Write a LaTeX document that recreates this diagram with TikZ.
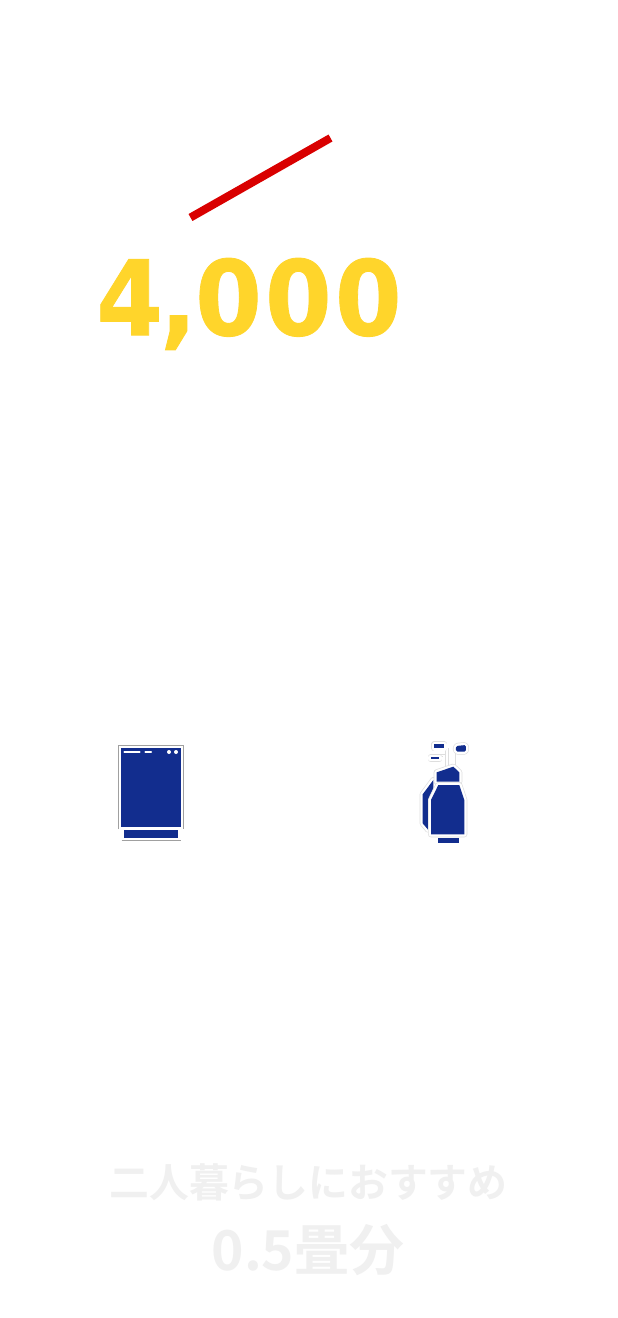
\documentclass[tikz,border=0pt]{standalone}
\usepackage{fontspec}
\newfontfamily\cjkb[Ligatures=TeX]{Noto Sans CJK JP Bold}
\newfontfamily\numb[LetterSpace=3.5,FakeBold=0.8]{DejaVu Sans Bold}
\definecolor{ybig}{HTML}{FFD52B}
\definecolor{redl}{HTML}{D90000}
\definecolor{navy}{HTML}{122D8E}
\definecolor{pale}{HTML}{F0F0F0}
\definecolor{rimg}{HTML}{A0A0A0}
\definecolor{rimh}{HTML}{DEDEDE}
\tikzset{
  blue part/.style={fill=navy,draw=none},
  white bar/.style={draw=white,line width=2.2pt,line cap=round},
  rim/.style={draw=rimg,line width=0.9pt},
  halo out/.style={draw=rimh,line width=6pt,line join=round},
  halo in/.style={draw=white,line width=4.6pt,line join=round},
  txt/.style={inner sep=0pt,outer sep=0pt,anchor=center}
}
\newcommand{\haloshape}[1]{\path[halo out] #1; \path[halo in] #1; \path[blue part] #1;}
\begin{document}
\begin{tikzpicture}[x=1pt,y=-1pt]
\useasboundingbox[fill=white] (0,0) rectangle (618,1318);
\coordinate (redA) at (190.5,217.5);
\coordinate (redB) at (330.5,138);
\draw[redl,line width=8pt] (redA) -- (redB);
\node[txt,text=ybig,transform shape,xscale=0.92,font={\numb\fontsize{104}{104}\selectfont}] (num) at (249,304) {4\kern-3pt,\kern-1.5pt000};
% dishwasher icon
\draw[rim] (118.7,829) -- (118.7,745.7) -- (183,745.7) -- (183,829);
\fill[blue part] (121,748) rectangle (180.7,826.7);
\fill[blue part] (124,830) rectangle (178,838);
\draw[rim] (121.5,840) -- (180.5,840);
\draw[white bar] (124.5,752) -- (139.5,752);
\draw[white bar] (145.5,752) -- (151,752);
\fill[white] (169,752) circle (2);
\fill[white] (176,752) circle (2);
% golf bag icon
\begin{scope}[shift={(400,735)},x=0.3333pt,y=-0.3333pt]
\draw[rimh,line width=3.4pt] (141,40) -- (141,110);
\draw[white,line width=2.2pt] (141,40) -- (141,110);
\draw[rimh,line width=3.4pt] (163,40) -- (163,100);
\draw[white,line width=2.2pt] (163,40) -- (163,100);
\draw[rimh,line width=2.8pt] (118,62) -- (132,62) -- (132,105);
\draw[white,line width=1.6pt] (118,62) -- (132,62) -- (132,105);
\haloshape{(103,28) -- (133,28) -- (133,40) -- (103,40) -- cycle}
\haloshape{[rounded corners=1.5pt] (168,33) -- (198,30) -- (198,50) -- (168,50) -- cycle}
\haloshape{(92,67) -- (118,67) -- (118,72) -- (92,72) -- cycle}
\haloshape{(100,135) -- (68,178) -- (68,265) -- (85,285) -- (85,195) -- (100,160) -- cycle}
\haloshape{(110,112) -- (160,95) -- (178,112) -- (178,140) -- (110,140) -- cycle}
\haloshape{(115,150) -- (178,150) -- (193,195) -- (193,298) -- (93,298) -- (93,195) -- cycle}
\fill[blue part] (113,310) rectangle (177,323);
\end{scope}
\node[txt,text=pale,font={\cjkb\fontsize{39.8}{40}\selectfont}] (title) at (308.5,1182) {二人暮らしにおすすめ};
\node[txt,text=pale,font={\cjkb\fontsize{55}{55}\selectfont}] (size) at (308,1250) {0.5畳分};
\end{tikzpicture}
\end{document}
